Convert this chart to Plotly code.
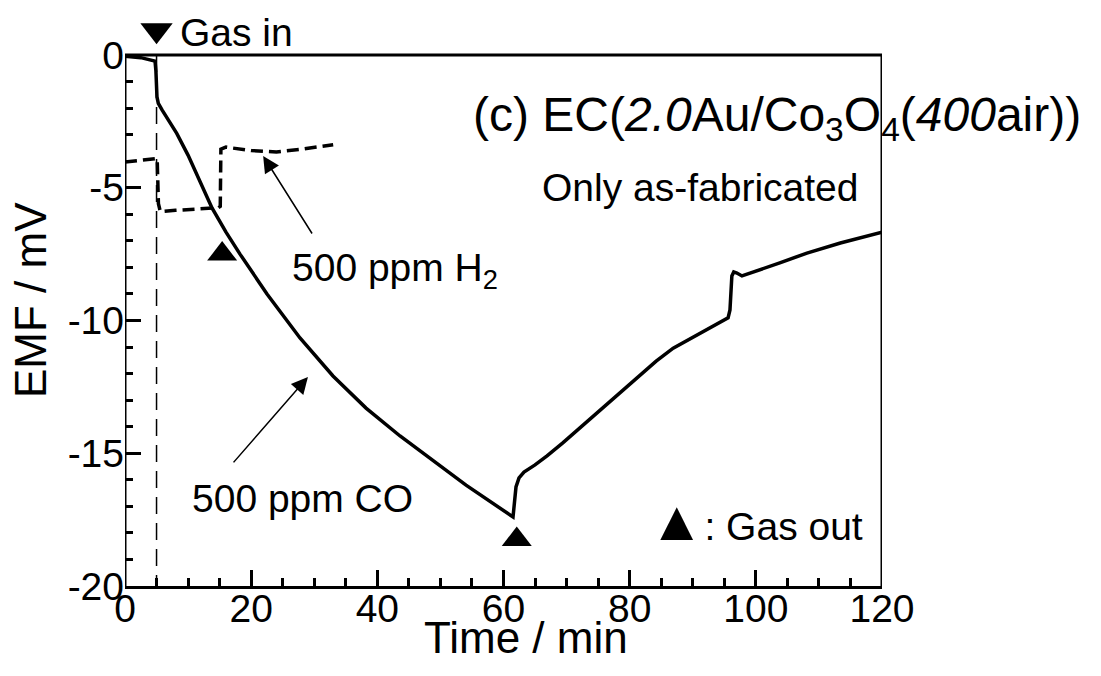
import plotly.graph_objects as go

# EMF response of the sensor to 500 ppm CO (solid) and 500 ppm H2 (dashed)
co_time = [0, 2.5, 4.76, 4.9, 5.07, 5.28, 5.87, 6.66, 8.2, 9.99, 11.89, 13.79, 16.01, 18.23,
           22.51, 27.74, 32.97, 38.21, 43.6, 48.83, 54.06, 61.51, 61.83, 61.98, 62.46, 63.25,
           65.0, 66.9, 69.4, 72.1, 74.8, 77.4, 79.6, 81.6, 84.2, 86.9, 91.2, 95.6, 95.9,
           96.07, 96.2, 96.5, 97.0, 97.8, 100.7, 103.8, 108.1, 113.4, 120]
co_emf = [-0.05, -0.1, -0.23, -0.6, -1.58, -1.82, -2.07, -2.37, -2.95, -3.77, -4.78, -5.76,
          -6.67, -7.5, -9.0, -10.66, -12.09, -13.3, -14.35, -15.29, -16.2, -17.4, -16.76,
          -16.27, -15.93, -15.71, -15.44, -15.1, -14.61, -14.05, -13.45, -12.92, -12.47,
          -12.05, -11.53, -11.04, -10.47, -9.9, -9.6, -8.85, -8.32, -8.17, -8.21, -8.32,
          -8.1, -7.83, -7.46, -7.08, -6.67]

h2_time = [0, 2.0, 4.8, 5.1, 5.3, 5.6, 8.0, 12.0, 14.8, 15.1, 15.2, 16.0, 20.0, 24.0, 28.0, 33.0]
h2_emf = [-4.03, -3.97, -3.88, -3.9, -5.6, -5.9, -5.85, -5.78, -5.75, -5.7, -3.55, -3.47,
          -3.6, -3.65, -3.55, -3.38]

# gas switching marks
gas_in_time = [5.0]
gas_in_mark = [0.93]
gas_out_time = [15.4, 62.1]
gas_out_mark = [-7.5, -18.25]
switch_line = [0, -20]

x_ticks = [0, 20, 40, 60, 80, 100, 120]
y_ticks = [0, -5, -10, -15, -20]
y_tick_text = ["0", "-5", "-10", "-15", "-20"]
y_minor = [v for v in range(-19, 0) if v % 5 != 0]

X_MIN, X_MAX = 0, 120
Y_MIN, Y_MAX = -20, 0

FONT = "Liberation Sans, Arial, sans-serif"
BLACK = "black"

# frame spans 531 px for 20 mV; the strip above 0 mV holds the gas-in mark
PX_PER_MV = 531 / 20.0
Y_STRIP = 55 / PX_PER_MV
PAPER_H = 586

fig = go.Figure()

fig.add_trace(go.Scatter(x=[gas_in_time[0], gas_in_time[0]], y=switch_line, mode="lines",
                         line=dict(color=BLACK, width=1.5, dash="17px,9px"), showlegend=False))
fig.add_trace(go.Scatter(x=h2_time, y=h2_emf, mode="lines",
                         line=dict(color=BLACK, width=3.5, dash="12px,6px"), showlegend=False))
fig.add_trace(go.Scatter(x=co_time, y=co_emf, mode="lines",
                         line=dict(color=BLACK, width=3.5), showlegend=False))
fig.add_trace(go.Scatter(x=gas_out_time, y=gas_out_mark, mode="markers", cliponaxis=False,
                         marker=dict(symbol="triangle-up", size=26, color=BLACK),
                         showlegend=False))
fig.add_trace(go.Scatter(x=gas_in_time, y=gas_in_mark, mode="markers", cliponaxis=False,
                         marker=dict(symbol="triangle-down", size=28, color=BLACK),
                         showlegend=False))

# frame: left, top and right edges of the box (bottom edge is the x axis line)
frame = dict(color=BLACK, width=3)
fig.add_shape(type="line", xref="x", yref="y", x0=X_MIN, x1=X_MIN, y0=Y_MIN, y1=Y_MAX, line=frame)
fig.add_shape(type="line", xref="x", yref="y", x0=X_MIN, x1=X_MAX, y0=Y_MAX, y1=Y_MAX, line=frame)
fig.add_shape(type="line", xref="x", yref="y", x0=X_MAX, x1=X_MAX, y0=Y_MIN, y1=Y_MAX, line=frame)

txt = dict(family=FONT, size=39, color=BLACK)

fig.add_annotation(x=8.4, y=0.83, xref="x", yref="y", text="Gas in", showarrow=False,
                   xanchor="left", yanchor="middle", font=txt)
fig.add_annotation(x=1.2655, y=(PAPER_H - 118) / PAPER_H, xref="paper", yref="paper",
                   text="(c) EC(<i>2.0</i>Au/Co<sub>3</sub>O<sub>4</sub>(<i>400</i>air))",
                   showarrow=False, xanchor="right", yanchor="middle",
                   font=dict(family=FONT, size=48, color=BLACK))
fig.add_annotation(x=116.5, y=-5.0, xref="x", yref="y", text="Only as-fabricated",
                   showarrow=False, xanchor="right", yanchor="middle", font=txt)
fig.add_annotation(x=117.3, y=-17.52, xref="x", yref="y",
                   text="<span style='font-size:56px'>▲</span>: Gas out",
                   showarrow=False, xanchor="right", yanchor="middle", font=txt)
fig.add_annotation(x=26.2, y=-8.1, xref="x", yref="y", text="500 ppm H<sub>2</sub>",
                   showarrow=False, xanchor="left", yanchor="middle", font=txt)
fig.add_annotation(x=28.2, y=-16.7, xref="x", yref="y", text="500 ppm CO",
                   showarrow=False, xanchor="center", yanchor="middle", font=txt)

# axis titles
fig.add_annotation(x=(526 - 125) / 757, y=(PAPER_H - 637) / PAPER_H, xref="paper", yref="paper",
                   text="Time / min", showarrow=False, xanchor="center", yanchor="middle",
                   font=dict(family=FONT, size=44, color=BLACK))
fig.add_annotation(x=(30 - 125) / 757, y=(PAPER_H - 300) / PAPER_H, xref="paper", yref="paper",
                   text="EMF / mV", showarrow=False, textangle=-90,
                   xanchor="center", yanchor="middle",
                   font=dict(family=FONT, size=44, color=BLACK))

# pointer arrows
fig.add_annotation(x=21.9, y=-3.8, ax=29.8, ay=-6.78, xref="x", yref="y", axref="x", ayref="y",
                   text="", showarrow=True, arrowhead=2, arrowsize=2.2, arrowwidth=1.5,
                   arrowcolor=BLACK)
fig.add_annotation(x=29.0, y=-12.13, ax=17.0, ay=-15.4, xref="x", yref="y", axref="x", ayref="y",
                   text="", showarrow=True, arrowhead=2, arrowsize=2.2, arrowwidth=1.5,
                   arrowcolor=BLACK)

tick_style = dict(ticks="inside", tickwidth=2.5, tickcolor=BLACK, showgrid=False,
                  zeroline=False, automargin=False,
                  tickfont=dict(family=FONT, size=39, color=BLACK))

fig.update_layout(
    xaxis=dict(range=[X_MIN, X_MAX], tickmode="array", tickvals=x_ticks,
               ticktext=[str(v) for v in x_ticks], ticklen=16, ticklabelstandoff=-14,
               showline=True, linecolor=BLACK, linewidth=3, mirror=False,
               minor=dict(ticks="inside", dtick=5, ticklen=8, tickwidth=2.5, tickcolor=BLACK),
               **tick_style),
    yaxis=dict(range=[Y_MIN, Y_MAX + Y_STRIP], tickmode="array", tickvals=y_ticks,
               ticktext=y_tick_text, ticklen=16, showline=False,
               minor=dict(ticks="inside", tickvals=y_minor, ticklen=8, tickwidth=2.5,
                          tickcolor=BLACK),
               **tick_style),
    width=1101, height=676, margin=dict(l=125, r=219, t=0, b=90),
    paper_bgcolor="white", plot_bgcolor="white", showlegend=False,
)

fig.write_html("out.html")
